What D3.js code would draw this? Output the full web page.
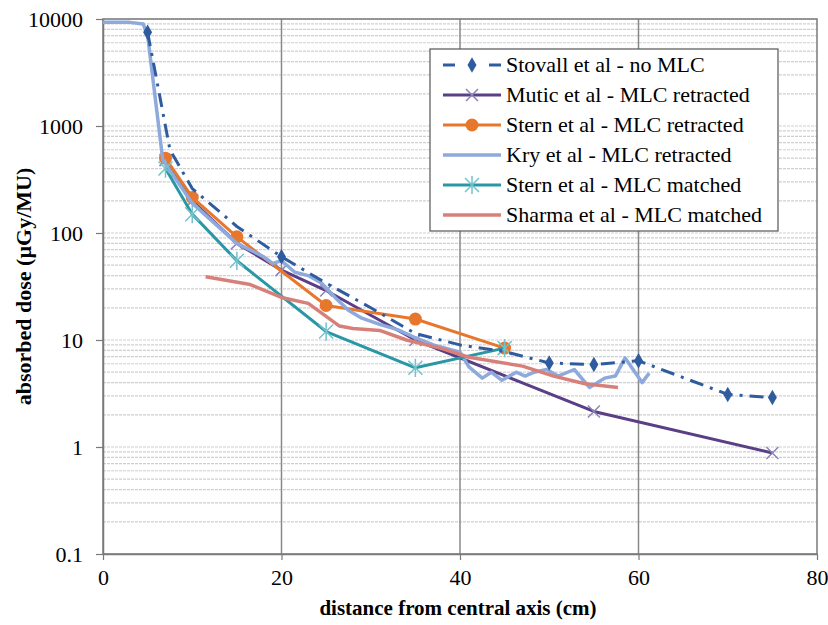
<!DOCTYPE html>
<html>
<head>
<meta charset="utf-8">
<script src="https://cdn.jsdelivr.net/npm/d3@7"></script>
</head>
<body style="margin:0; background:#fff">
<div id="chart"></div>
<script>

// ---- data ----
let stovallX = [5, 7.5, 10, 15, 20, 25, 30, 35, 40, 45, 50, 55, 60, 70, 75];
let stovallY = [7500, 600, 260, 115, 60, 34, 20, 11.5, 9, 7.8, 6.1, 5.9, 6.4, 3.1, 2.9];
// diamonds that show in the figure
let stovallMarkX = [5, 20, 50, 55, 60, 70, 75];

let muticX = [7, 10, 15, 20, 25, 35, 55, 75];
let muticY = [480, 200, 80, 45, 29, 10, 2.15, 0.88];

let sternRetX = [7, 10, 15, 25, 35, 45];
let sternRetY = [500, 215, 92, 21, 15.7, 8.4];

let kryX = [0, 3, 4.5, 5, 6.7, 10, 15, 18, 19, 20, 21.5, 23, 24.5, 26, 27.5, 29, 31, 33, 35, 37, 40,
    41, 42.5, 43.5, 44.7, 46.3, 47.3, 48.3, 49.7, 51, 52.8, 54.5, 56.2, 57.4, 58.5, 60.4, 61.2];
let kryY = [9300, 9300, 9000, 7000, 480, 190, 80, 60, 52, 55, 43, 40, 34, 25, 19, 16, 14, 12.5, 10.5, 9, 7.7,
    5.6, 4.4, 5, 4.2, 5, 4.6, 5, 5.3, 4.6, 5.3, 3.6, 4.4, 4.6, 6.8, 4.0, 4.9];

let sternMatX = [7, 10, 15, 25, 35, 45];
let sternMatY = [400, 150, 55, 12, 5.5, 8.4];

let sharmaX = [11.5, 16.5, 20, 23, 26.5, 28, 31, 34, 38, 41, 47, 50.5, 54, 57.7];
let sharmaY = [39, 33, 25, 22, 13.5, 12.8, 12.3, 10, 8.3, 6.9, 5.7, 4.6, 3.9, 3.6];

let xTicks = [0, 20, 40, 60, 80];
let yTicks = [0.1, 1, 10, 100, 1000, 10000];
let yTickLabels = ["0.1", "1", "10", "100", "1000", "10000"];

let seriesNames = [
    "Stovall et al - no MLC",
    "Mutic et al - MLC retracted",
    "Stern et al - MLC retracted",
    "Kry et al - MLC retracted",
    "Stern et al - MLC matched",
    "Sharma et al - MLC matched"
];

// style per series (same order as names)
let seriesStyle = [
    {color: "#2E5C9E", width: 3, dash: "14,7,3,7", marker: "diamond", mColor: "#2E5C9E"},
    {color: "#5A3E86", width: 3, dash: null, marker: "x", mColor: "#8C84B4"},
    {color: "#E8772E", width: 3, dash: null, marker: "circle", mColor: "#E8772E"},
    {color: "#8EA9DB", width: 3.5, dash: null, marker: null, mColor: null},
    {color: "#2A97A6", width: 3, dash: null, marker: "star", mColor: "#73C2CC"},
    {color: "#D7807A", width: 3.5, dash: null, marker: null, mColor: null}
];

let seriesData = [
    [stovallX, stovallY],
    [muticX, muticY],
    [sternRetX, sternRetY],
    [kryX, kryY],
    [sternMatX, sternMatY],
    [sharmaX, sharmaY]
].map(p => p[0].map((x, i) => ({x: x, y: p[1][i]})));

// which points carry a marker
let markerData = seriesData.map((s, i) => i === 0 ? s.filter(d => stovallMarkX.includes(d.x)) : s);

const SERIF = "Liberation Serif";

// ask for the faces early so they are ready when the text is laid out
if (document.fonts && document.fonts.load) {
    document.fonts.load("22px 'Liberation Serif'");
    document.fonts.load("bold 22px 'Liberation Serif'");
}

// ---- drawing area ----
let margin = {top: 19, right: 11, bottom: 71, left: 103};
let W = 828, H = 625;
let width = W - margin.left - margin.right;
let height = H - margin.top - margin.bottom;

let svg = d3.select("#chart").append("svg")
    .attr("width", W)
    .attr("height", H);

let g = svg.append("g")
    .attr("transform", "translate(" + margin.left + "," + margin.top + ")");

let x = d3.scaleLinear().domain([0, 80]).range([0, width]);
let y = d3.scaleLog().domain([0.1, 10000]).range([height, 0]);

// minor horizontal grid (every 1..9 x decade)
let gridVals = [];
for (let k = -1; k < 4; k++) {
    for (let m = 1; m < 10; m++) gridVals.push(m * Math.pow(10, k));
}
gridVals.push(10000);

g.append("g").attr("class", "grid-h")
    .selectAll("line")
    .data(gridVals)
    .enter().append("line")
    .attr("x1", 0).attr("x2", width)
    .attr("y1", d => y(d)).attr("y2", d => y(d))
    .attr("stroke", "#cfcfcf")
    .attr("stroke-width", 1.2)
    .attr("stroke-dasharray", "3,1");

// major vertical grid
g.append("g").attr("class", "grid-v")
    .selectAll("line")
    .data(xTicks.slice(1, -1))
    .enter().append("line")
    .attr("x1", d => x(d)).attr("x2", d => x(d))
    .attr("y1", 0).attr("y2", height)
    .attr("stroke", "#888")
    .attr("stroke-width", 1.5);

// plot border
g.append("rect")
    .attr("width", width).attr("height", height)
    .attr("fill", "none")
    .attr("stroke", "#7a7a7a")
    .attr("stroke-width", 1.5);

// axes
let xAxis = d3.axisBottom(x).tickValues(xTicks).tickSize(6).tickSizeOuter(0).tickPadding(9)
    .tickFormat(d3.format("d"));
let yAxis = d3.axisLeft(y).tickValues(yTicks).tickSize(7).tickSizeOuter(0).tickPadding(13)
    .tickFormat((d, i) => yTickLabels[i]);

let xg = g.append("g").attr("transform", "translate(0," + height + ")").call(xAxis);
let yg = g.append("g").call(yAxis);

[xg, yg].forEach(a => {
    a.attr("font-family", SERIF).attr("font-size", 22);
    a.select(".domain").attr("stroke", "#7a7a7a").attr("stroke-width", 1.5);
    a.selectAll(".tick line").attr("stroke", "#7a7a7a").attr("stroke-width", 1.2);
    a.selectAll(".tick text")
        .attr("class", "lbl")
        .attr("font-family", SERIF)
        .attr("font-size", 22)
        .attr("fill", "#000");
});

// axis titles
g.append("text")
    .attr("class", "lbl")
    .attr("x", width / 2 - 2)
    .attr("y", height + 61)
    .attr("text-anchor", "middle")
    .attr("font-family", SERIF)
    .attr("font-weight", "bold")
    .attr("font-size", 21)
    .text("distance from central axis (cm)");

g.append("text")
    .attr("class", "lbl")
    .attr("transform", "translate(" + (-72) + "," + (height / 2) + ") rotate(-90)")
    .attr("text-anchor", "middle")
    .attr("font-family", SERIF)
    .attr("font-weight", "bold")
    .attr("font-size", 22)
    .text("absorbed dose (µGy/MU)");

// marker helper
function drawMarker(sel, type, color) {
    if (type === "diamond") {
        sel.append("path")
            .attr("d", d3.symbol(d3.symbolDiamond, 70)())
            .attr("fill", color);
    } else if (type === "circle") {
        sel.append("circle").attr("r", 6.5).attr("fill", color);
    } else if (type === "x") {
        let s = 6;
        sel.append("path")
            .attr("d", `M${-s},${-s}L${s},${s}M${-s},${s}L${s},${-s}`)
            .attr("stroke", color).attr("stroke-width", 1.5).attr("fill", "none");
    } else if (type === "star") {
        let s = 7;
        sel.append("path")
            .attr("d", `M${-s},${-s}L${s},${s}M${-s},${s}L${s},${-s}M0,${-s * 1.3}L0,${s * 1.3}`)
            .attr("stroke", color).attr("stroke-width", 1.5).attr("fill", "none");
    }
}

let line = d3.line().x(d => x(d.x)).y(d => y(d.y));

// drawing order: Stovall on top
let order = [1, 2, 3, 4, 5, 0];
order.forEach(i => {
    let st = seriesStyle[i];
    let sg = g.append("g").attr("class", "series s" + i);
    sg.append("path")
        .datum(seriesData[i])
        .attr("d", line)
        .attr("fill", "none")
        .attr("stroke", st.color)
        .attr("stroke-width", st.width)
        .attr("stroke-linejoin", "round")
        .attr("stroke-dasharray", st.dash);
    if (st.marker) {
        sg.selectAll(".mk")
            .data(markerData[i])
            .enter().append("g")
            .attr("class", "mk")
            .attr("transform", d => "translate(" + x(d.x) + "," + y(d.y) + ")")
            .each(function () { drawMarker(d3.select(this), st.marker, st.mColor); });
    }
});

// ---- legend ----
let legend = svg.append("g").attr("transform", "translate(430,49)");
legend.append("rect")
    .attr("width", 348).attr("height", 182)
    .attr("fill", "#fff")
    .attr("stroke", "#555")
    .attr("stroke-width", 1.2);

seriesNames.forEach((name, i) => {
    let st = seriesStyle[i];
    let row = legend.append("g").attr("transform", "translate(0," + (16 + i * 30) + ")");
    if (st.dash) {
        row.append("line").attr("x1", 13).attr("x2", 25).attr("y1", 0).attr("y2", 0)
            .attr("stroke", st.color).attr("stroke-width", st.width);
        row.append("line").attr("x1", 59).attr("x2", 71).attr("y1", 0).attr("y2", 0)
            .attr("stroke", st.color).attr("stroke-width", st.width);
    } else {
        row.append("line").attr("x1", 13).attr("x2", 71).attr("y1", 0).attr("y2", 0)
            .attr("stroke", st.color).attr("stroke-width", st.width);
    }
    if (st.marker) {
        let mg = row.append("g").attr("transform", "translate(42,0)");
        drawMarker(mg, st.marker, st.mColor);
    }
    row.append("text")
        .attr("class", "lbl")
        .attr("x", 76)
        .attr("y", 7)
        .attr("font-family", SERIF)
        .attr("font-size", 22)
        .text(name);
});

// once the faces are in, re-apply the family so every label is laid out again
if (document.fonts && document.fonts.ready) {
    document.fonts.ready.then(() => {
        svg.selectAll("text.lbl")
            .attr("font-family", "serif")
            .attr("font-family", SERIF);
    });
}

</script>
</body>
</html>
